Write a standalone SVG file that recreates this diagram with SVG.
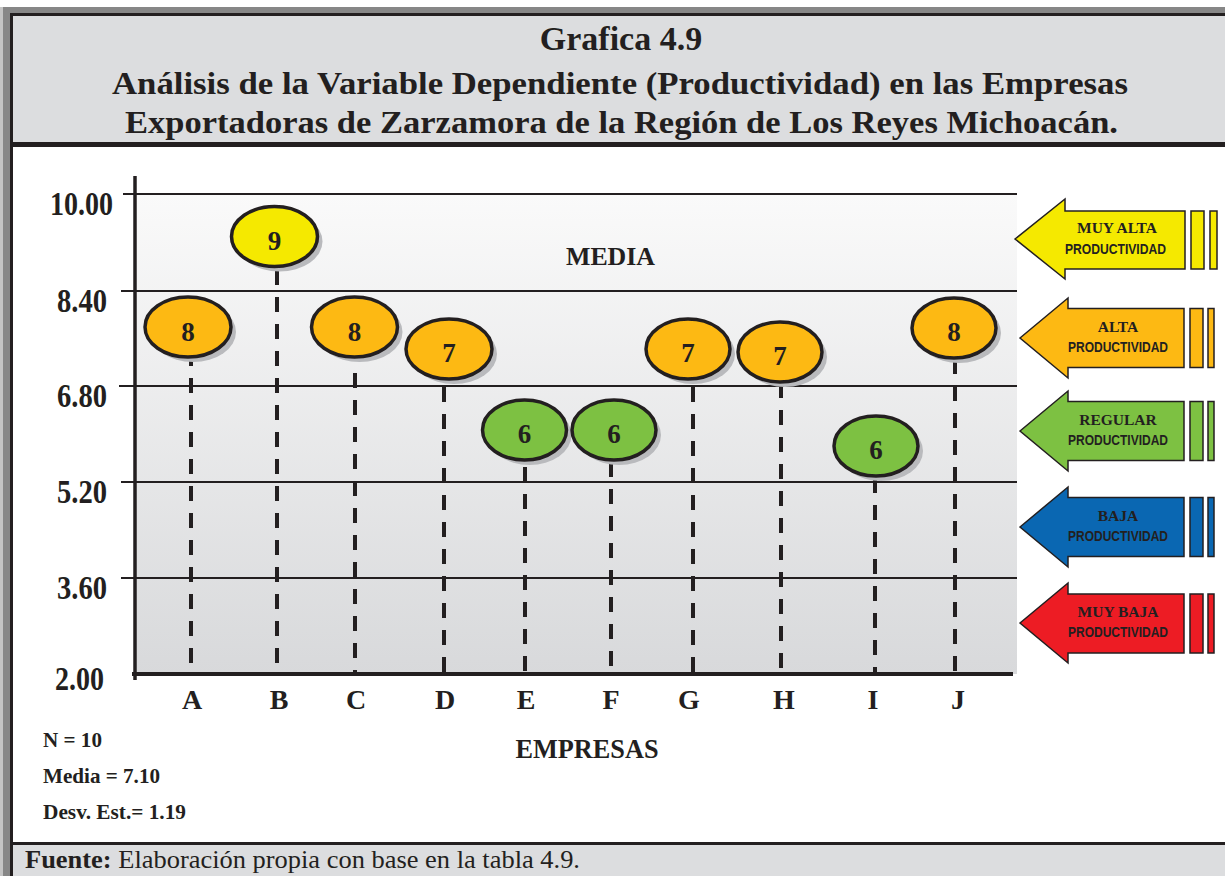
<svg xmlns="http://www.w3.org/2000/svg" width="1225" height="876" viewBox="0 0 1225 876">
<style>
.t{font-family:"Liberation Serif","Times New Roman",serif;font-weight:bold;fill:#231f20}
.r{font-family:"Liberation Serif","Times New Roman",serif;fill:#231f20}
.s{font-family:"Liberation Sans",Arial,sans-serif;font-weight:bold;fill:#231f20}
.grid{stroke:#231f20;stroke-width:2}
.dash{stroke:#231f20;stroke-width:4;stroke-dasharray:15 12;fill:none}
.bub{stroke:#231f20;stroke-width:3.5}
.sh{fill:#b9babd}
.arr{stroke:#231f20;stroke-width:1.5}
.lbl{font-size:28px;text-anchor:middle}
.bn{font-size:27px;text-anchor:middle}
.yl{font-size:33px}
.st{font-size:22px}
.a1{font-size:15.5px;text-anchor:middle}
.a2{font-size:14px;text-anchor:middle}
</style>
<defs>
<linearGradient id="plotbg" x1="0" y1="0" x2="0" y2="1">
<stop offset="0" stop-color="#fafafa"/>
<stop offset="1" stop-color="#d8d9db"/>
</linearGradient>
</defs>

<g id="frame">
<rect x="0" y="0" width="1225" height="876" fill="#ffffff"/>
<rect x="0" y="7" width="3" height="869" fill="#c4c4c4"/>
<rect x="3" y="7" width="1222" height="6" fill="#878787"/>
<rect x="3" y="7" width="7" height="869" fill="#878787"/>
<rect x="10" y="13" width="1215" height="3" fill="#231f20"/>
<rect x="10" y="13" width="3" height="863" fill="#231f20"/>
<rect x="13" y="16" width="1212" height="126" fill="#dcdddf"/>
<rect x="13" y="142" width="1212" height="5" fill="#231f20"/>
<rect x="13" y="842" width="1212" height="3" fill="#231f20"/>
<rect x="13" y="845" width="1212" height="31" fill="#dcdddf"/>
</g>

<g id="title">
<text class="t" x="621" y="50" font-size="34" text-anchor="middle">Grafica 4.9</text>
<text class="t" x="620" y="94" font-size="32" text-anchor="middle" textLength="1016" lengthAdjust="spacingAndGlyphs">Análisis de la Variable Dependiente (Productividad) en las Empresas</text>
<text class="t" x="621.5" y="133" font-size="32" text-anchor="middle" textLength="993" lengthAdjust="spacingAndGlyphs">Exportadoras de Zarzamora de la Región de Los Reyes Michoacán.</text>
</g>

<g id="plot">
<rect x="135" y="194" width="882" height="480" fill="url(#plotbg)"/>
<line class="grid" x1="123" y1="194" x2="1017" y2="194"/>
<line class="grid" x1="121" y1="291" x2="1017" y2="291"/>
<line class="grid" x1="119" y1="386" x2="1017" y2="386"/>
<line class="grid" x1="121" y1="482" x2="1017" y2="482"/>
<line class="grid" x1="121" y1="578" x2="1017" y2="578"/>
<text class="t" x="610.5" y="265" font-size="26" text-anchor="middle" textLength="89" lengthAdjust="spacingAndGlyphs">MEDIA</text>
</g>

<g id="y-labels">
<text class="t yl" x="50" y="215" textLength="63" lengthAdjust="spacingAndGlyphs">10.00</text>
<text class="t yl" x="57" y="312" textLength="50" lengthAdjust="spacingAndGlyphs">8.40</text>
<text class="t yl" x="57" y="407" textLength="50" lengthAdjust="spacingAndGlyphs">6.80</text>
<text class="t yl" x="57" y="503" textLength="50" lengthAdjust="spacingAndGlyphs">5.20</text>
<text class="t yl" x="57" y="599" textLength="50" lengthAdjust="spacingAndGlyphs">3.60</text>
<text class="t yl" x="55" y="690" textLength="49" lengthAdjust="spacingAndGlyphs">2.00</text>
</g>

<g id="connectors">
<line class="dash" x1="191" y1="351" x2="191" y2="674"/>
<line class="dash" x1="277" y1="270" x2="277" y2="674"/>
<line class="dash" x1="355" y1="373" x2="355" y2="674"/>
<line class="dash" x1="444" y1="387" x2="444" y2="674"/>
<line class="dash" x1="525" y1="467" x2="525" y2="674"/>
<line class="dash" x1="611" y1="462" x2="611" y2="674"/>
<line class="dash" x1="693" y1="387" x2="693" y2="674"/>
<line class="dash" x1="781" y1="383" x2="781" y2="674"/>
<line class="dash" x1="875" y1="478" x2="875" y2="674"/>
<line class="dash" x1="955" y1="359" x2="955" y2="674"/>
</g>

<g id="axes">
<line x1="135" y1="176" x2="135" y2="680" stroke="#231f20" stroke-width="3.5"/>
<line x1="132" y1="674" x2="1013" y2="674" stroke="#231f20" stroke-width="4"/>
</g>

<g id="x-labels">
<text class="t lbl" x="192" y="709">A</text>
<text class="t lbl" x="279" y="709">B</text>
<text class="t lbl" x="356" y="709">C</text>
<text class="t lbl" x="445" y="709">D</text>
<text class="t lbl" x="526" y="709">E</text>
<text class="t lbl" x="611" y="709">F</text>
<text class="t lbl" x="689" y="709">G</text>
<text class="t lbl" x="784" y="709">H</text>
<text class="t lbl" x="873" y="709">I</text>
<text class="t lbl" x="958" y="709">J</text>
<text class="t lbl" x="587" y="758" textLength="143" lengthAdjust="spacingAndGlyphs">EMPRESAS</text>
</g>

<g id="node-A"><ellipse class="sh" cx="193" cy="332" rx="43" ry="30"/><ellipse class="bub" cx="188" cy="327" rx="43" ry="30" fill="#fdb913"/><text class="t bn" x="188" y="341">8</text></g>
<g id="node-B"><ellipse class="sh" cx="279.5" cy="241.5" rx="43" ry="30"/><ellipse class="bub" cx="274.5" cy="236.5" rx="43" ry="30" fill="#f5e900"/><text class="t bn" x="274.5" y="250">9</text></g>
<g id="node-C"><ellipse class="sh" cx="359.5" cy="332" rx="43" ry="30"/><ellipse class="bub" cx="354.5" cy="327" rx="43" ry="30" fill="#fdb913"/><text class="t bn" x="354.5" y="341">8</text></g>
<g id="node-D"><ellipse class="sh" cx="454" cy="354" rx="43" ry="30"/><ellipse class="bub" cx="449" cy="349" rx="43" ry="30" fill="#fdb913"/><text class="t bn" x="449" y="362">7</text></g>
<g id="node-E"><ellipse class="sh" cx="529.5" cy="435" rx="42" ry="30"/><ellipse class="bub" cx="524.5" cy="430" rx="42" ry="30" fill="#7dc142"/><text class="t bn" x="524.5" y="443">6</text></g>
<g id="node-F"><ellipse class="sh" cx="619" cy="435" rx="42" ry="30"/><ellipse class="bub" cx="614" cy="430" rx="42" ry="30" fill="#7dc142"/><text class="t bn" x="614" y="443">6</text></g>
<g id="node-G"><ellipse class="sh" cx="693" cy="354" rx="42" ry="30"/><ellipse class="bub" cx="688" cy="349" rx="42" ry="30" fill="#fdb913"/><text class="t bn" x="688" y="362">7</text></g>
<g id="node-H"><ellipse class="sh" cx="785" cy="357" rx="42" ry="30"/><ellipse class="bub" cx="780" cy="352" rx="42" ry="30" fill="#fdb913"/><text class="t bn" x="780" y="365">7</text></g>
<g id="node-I"><ellipse class="sh" cx="881" cy="451" rx="42" ry="30"/><ellipse class="bub" cx="876" cy="446" rx="42" ry="30" fill="#7dc142"/><text class="t bn" x="876" y="459">6</text></g>
<g id="node-J"><ellipse class="sh" cx="959" cy="333" rx="42" ry="30"/><ellipse class="bub" cx="954" cy="328" rx="42" ry="30" fill="#fdb913"/><text class="t bn" x="954" y="341">8</text></g>

<g id="legend-muy-alta">
<path class="arr" d="M1015,239 L1065,199 L1065,211 L1185,211 L1185,269 L1065,269 L1065,279 Z" fill="#f5e900"/>
<rect class="arr" x="1191" y="211" width="13" height="58" fill="#f5e900"/>
<rect class="arr" x="1210" y="211" width="7" height="58" fill="#f5e900"/>
<text class="t a1" x="1117" y="233">MUY ALTA</text>
<text class="s a2" x="1115.5" y="254" textLength="101" lengthAdjust="spacingAndGlyphs">PRODUCTIVIDAD</text>
</g>
<g id="legend-alta">
<path class="arr" d="M1020,338 L1068,298 L1068,308.5 L1184,308.5 L1184,367.5 L1068,367.5 L1068,378 Z" fill="#fdb913"/>
<rect class="arr" x="1190" y="308.5" width="13" height="59" fill="#fdb913"/>
<rect class="arr" x="1208" y="308.5" width="6" height="59" fill="#fdb913"/>
<text class="t a1" x="1118" y="332">ALTA</text>
<text class="s a2" x="1118" y="352" textLength="100" lengthAdjust="spacingAndGlyphs">PRODUCTIVIDAD</text>
</g>
<g id="legend-regular">
<path class="arr" d="M1020,431 L1068,391 L1068,401.5 L1184,401.5 L1184,460.5 L1068,460.5 L1068,471 Z" fill="#7dc142"/>
<rect class="arr" x="1190" y="401.5" width="13" height="59" fill="#7dc142"/>
<rect class="arr" x="1208" y="401.5" width="6" height="59" fill="#7dc142"/>
<text class="t a1" x="1118" y="425">REGULAR</text>
<text class="s a2" x="1118" y="445" textLength="100" lengthAdjust="spacingAndGlyphs">PRODUCTIVIDAD</text>
</g>
<g id="legend-baja">
<path class="arr" d="M1020,527 L1068,487 L1068,497.5 L1184,497.5 L1184,556.5 L1068,556.5 L1068,567 Z" fill="#0a67b2"/>
<rect class="arr" x="1190" y="497.5" width="13" height="59" fill="#0a67b2"/>
<rect class="arr" x="1208" y="497.5" width="6" height="59" fill="#0a67b2"/>
<text class="t a1" x="1118" y="521">BAJA</text>
<text class="s a2" x="1118" y="541" textLength="100" lengthAdjust="spacingAndGlyphs">PRODUCTIVIDAD</text>
</g>
<g id="legend-muy-baja">
<path class="arr" d="M1020,623 L1068,583 L1068,594 L1184,594 L1184,653 L1068,653 L1068,663 Z" fill="#ed1c24"/>
<rect class="arr" x="1190" y="594" width="13" height="59" fill="#ed1c24"/>
<rect class="arr" x="1208" y="594" width="6" height="59" fill="#ed1c24"/>
<text class="t a1" x="1118" y="617">MUY BAJA</text>
<text class="s a2" x="1118" y="637" textLength="100" lengthAdjust="spacingAndGlyphs">PRODUCTIVIDAD</text>
</g>

<g id="stats">
<text class="t st" x="43" y="747" textLength="59" lengthAdjust="spacingAndGlyphs">N = 10</text>
<text class="t st" x="43" y="783" textLength="117" lengthAdjust="spacingAndGlyphs">Media = 7.10</text>
<text class="t st" x="43" y="819" textLength="143" lengthAdjust="spacingAndGlyphs">Desv. Est.= 1.19</text>
</g>

<g id="footer">
<text class="r" x="25" y="868" font-size="26" textLength="555" lengthAdjust="spacingAndGlyphs"><tspan font-weight="bold">Fuente:</tspan> Elaboración propia con base en la tabla 4.9.</text>
</g>
</svg>
